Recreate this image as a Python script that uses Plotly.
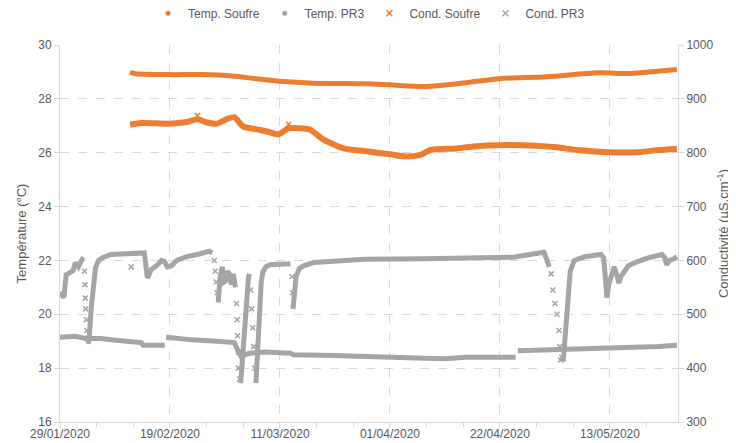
import plotly.graph_objects as go

# ---------------- data ----------------
temp_soufre_dates = ["2020-02-11 09:00", "2020-02-12 12:00", "2020-02-18 22:00", "2020-02-25 02:00",
                     "2020-03-01 22:00", "2020-03-06 00:00", "2020-03-11 00:00", "2020-03-17 10:00",
                     "2020-03-27 02:00", "2020-04-01 00:00", "2020-04-07 17:00", "2020-04-15 12:00",
                     "2020-04-21 22:00", "2020-05-01 00:00", "2020-05-10 17:00", "2020-05-16 12:00",
                     "2020-05-20 10:00", "2020-05-25 19:00"]
temp_soufre_vals = [28.98, 28.93, 28.9, 28.9, 28.85, 28.76, 28.65, 28.58, 28.56, 28.52, 28.46, 28.6,
                    28.75, 28.82, 28.97, 28.94, 29.0, 29.09]

temp_pr3_dates = ["2020-01-29 00:00", "2020-01-31 22:00", "2020-02-03 00:00", "2020-02-05 17:00",
                  "2020-02-10 14:00", "2020-02-13 12:00", "2020-02-13 22:00", "2020-02-18 00:00", None,
                  "2020-02-18 06:00", "2020-02-23 05:00", "2020-02-28 00:00", "2020-03-02 07:00",
                  "2020-03-03 02:00", "2020-03-03 12:00", "2020-03-05 05:00", "2020-03-08 03:00",
                  "2020-03-13 00:00", "2020-03-13 14:00", "2020-03-21 07:00", "2020-03-27 03:00",
                  "2020-04-07 17:00", "2020-04-11 14:00", "2020-04-15 12:00", "2020-04-25 00:00", None,
                  "2020-04-25 10:00", "2020-05-01 00:00", "2020-05-08 17:00", "2020-05-16 12:00",
                  "2020-05-22 07:00", "2020-05-25 19:00"]
temp_pr3_vals = [19.15, 19.18, 19.1, 19.1, 19.0, 18.95, 18.85, 18.85, None,
                 19.15, 19.05, 19.0, 18.95, 18.6, 18.45, 18.55, 18.6, 18.55, 18.5, 18.47, 18.45,
                 18.37, 18.35, 18.4, 18.4, None,
                 18.65, 18.68, 18.72, 18.75, 18.8, 18.85]

cond_soufre_dates = ["2020-02-11 09:00", "2020-02-13 12:00", "2020-02-18 22:00", "2020-02-22 05:00",
                     "2020-02-24 07:00", "2020-02-26 02:00", "2020-02-28 00:00", "2020-03-01 00:00",
                     "2020-03-02 07:00", "2020-03-03 22:00", "2020-03-06 19:00", "2020-03-08 17:00",
                     "2020-03-10 17:00", "2020-03-12 14:00", "2020-03-15 12:00", "2020-03-16 17:00",
                     "2020-03-19 10:00", "2020-03-23 05:00", "2020-03-27 02:00", "2020-04-01 00:00",
                     "2020-04-03 22:00", "2020-04-06 19:00", "2020-04-08 17:00", "2020-04-13 14:00",
                     "2020-04-17 10:00", "2020-04-21 22:00", "2020-04-29 00:00", "2020-05-02 22:00",
                     "2020-05-06 19:00", "2020-05-12 14:00", "2020-05-18 10:00", "2020-05-22 07:00",
                     "2020-05-25 19:00"]
cond_soufre_vals = [852, 855, 854, 857, 862, 856, 854, 863, 866, 849, 843, 839, 834, 845, 845, 843,
                    824, 808, 803, 797, 793, 796, 805, 808, 812, 814, 813, 810, 805, 801, 801, 805, 807]
cond_soufre_spike_dates = ["2020-02-24 06:00", "2020-03-12 16:00"]
cond_soufre_spike_vals = [869, 853]

cond_pr3_dates = ["2020-01-29 00:00", "2020-01-29 18:00", "2020-01-30 04:00", "2020-01-30 22:00",
                  "2020-01-31 12:00", "2020-01-31 22:00", "2020-02-01 12:00", "2020-02-02 06:00",
                  "2020-02-02 13:00", None,
                  "2020-02-03 10:00", "2020-02-03 14:00", "2020-02-04 00:00", "2020-02-04 10:00",
                  "2020-02-04 19:00", "2020-02-05 09:00", "2020-02-06 03:00", "2020-02-07 17:00",
                  "2020-02-11 14:00", "2020-02-14 02:00", "2020-02-14 07:00", "2020-02-14 12:00",
                  "2020-02-14 16:00", "2020-02-14 20:00", "2020-02-15 10:00", "2020-02-16 10:00",
                  "2020-02-17 10:00", "2020-02-17 23:00", "2020-02-18 12:00", "2020-02-19 07:00",
                  "2020-02-20 07:00", "2020-02-22 05:00", "2020-02-24 05:00", "2020-02-26 12:00",
                  "2020-02-27 02:00", None,
                  "2020-02-28 05:00", "2020-02-28 14:00", "2020-02-29 00:00", "2020-02-29 07:00",
                  "2020-02-29 14:00", "2020-03-01 00:00", "2020-03-01 08:00", "2020-03-01 17:00",
                  "2020-03-02 02:00", "2020-03-02 12:00", None,
                  "2020-03-03 12:00", "2020-03-03 17:00", "2020-03-04 00:00", "2020-03-04 07:00",
                  "2020-03-04 17:00", "2020-03-05 00:00", "2020-03-05 05:00", None,
                  "2020-03-06 10:00", "2020-03-06 14:00", "2020-03-06 19:00", "2020-03-07 02:00",
                  "2020-03-07 10:00", "2020-03-07 17:00", "2020-03-08 07:00", "2020-03-09 02:00",
                  "2020-03-13 00:00", None,
                  "2020-03-13 12:00", "2020-03-13 18:00", "2020-03-14 02:00", "2020-03-14 17:00",
                  "2020-03-15 12:00", "2020-03-17 10:00", "2020-03-27 03:00", "2020-04-07 17:00",
                  "2020-04-15 12:00", "2020-04-24 14:00", "2020-04-27 03:00", "2020-04-30 10:00",
                  "2020-05-01 00:00", "2020-05-01 10:00", None,
                  "2020-05-04 02:00", "2020-05-04 12:00", "2020-05-04 22:00", "2020-05-05 10:00",
                  "2020-05-06 05:00", "2020-05-08 05:00", "2020-05-11 07:00", "2020-05-11 19:00",
                  "2020-05-12 05:00", "2020-05-12 10:00", "2020-05-12 19:00", "2020-05-13 10:00",
                  "2020-05-13 19:00", "2020-05-14 10:00", "2020-05-14 17:00", "2020-05-15 02:00",
                  "2020-05-16 12:00", "2020-05-17 19:00", "2020-05-20 10:00", "2020-05-22 22:00",
                  "2020-05-23 12:00", "2020-05-23 19:00", "2020-05-24 10:00", "2020-05-25 05:00",
                  "2020-05-25 19:00"]
cond_pr3_vals = [541, 531, 573, 577, 581, 596, 588, 602, 600, None,
                 445, 458, 515, 562, 587, 600, 605, 611, 613, 614, 600, 585, 568, 570, 583, 590,
                 600, 598, 588, 590, 600, 607, 611, 617, 614, None,
                 522, 570, 588, 560, 562, 580, 575, 555, 575, 550, None,
                 372, 400, 450, 500, 545, 570, 575, None,
                 372, 400, 460, 520, 560, 578, 588, 592, 594, None,
                 510, 540, 570, 585, 590, 596, 602, 603, 604, 606, 610, 615, 600, 588, None,
                 412, 460, 530, 580, 600, 607, 611, 605, 560, 531, 555, 580, 588, 570, 558, 570,
                 590, 596, 605, 611, 605, 592, 600, 603, 607]

# scattered points during fast drops (markers only)
cond_pr3_drop_dates = ["2020-02-02 16:00", "2020-02-02 18:00", "2020-02-02 20:00", "2020-02-02 22:00",
                       "2020-02-03 01:00", "2020-02-03 03:00", "2020-02-03 06:00", "2020-02-11 14:00",
                       "2020-02-27 11:00", "2020-02-27 15:00", "2020-02-27 20:00", "2020-02-28 00:00",
                       "2020-03-02 17:00", "2020-03-02 20:00", "2020-03-02 22:00", "2020-03-03 01:00",
                       "2020-03-03 02:00", "2020-03-03 07:00", "2020-03-05 10:00", "2020-03-05 14:00",
                       "2020-03-05 19:00", "2020-03-06 00:00", "2020-03-06 05:00", "2020-03-13 07:00",
                       "2020-03-13 10:00", "2020-05-01 19:00", "2020-05-02 02:00", "2020-05-02 12:00",
                       "2020-05-02 22:00", "2020-05-03 07:00", "2020-05-03 10:00", "2020-05-03 14:00",
                       "2020-05-03 20:00"]
cond_pr3_drop_vals = [580, 555, 530, 510, 490, 470, 455, 588,
                      600, 580, 560, 540,
                      520, 490, 460, 430, 400, 380, 545, 510, 475, 440, 400, 570, 540,
                      575, 545, 520, 500, 470, 440, 415, 420]

x_range = ["2020-01-29", "2020-05-26"]

ORANGE = "#ED7D31"
GRAY = "#A5A5A5"
GRID = "#D9D9D9"
TXT = "#595959"
FONT = "Liberation Sans"
DAY = 86400000

fig = go.Figure()

# data traces
fig.add_trace(go.Scatter(x=temp_soufre_dates, y=temp_soufre_vals, mode="lines",
                         line=dict(color=ORANGE, width=5, shape="spline", smoothing=0.8),
                         showlegend=False, yaxis="y"))
fig.add_trace(go.Scatter(x=temp_pr3_dates, y=temp_pr3_vals, mode="lines", connectgaps=False,
                         line=dict(color=GRAY, width=5), showlegend=False, yaxis="y"))
fig.add_trace(go.Scatter(x=cond_soufre_dates, y=cond_soufre_vals, mode="lines",
                         line=dict(color=ORANGE, width=6, shape="spline", smoothing=0.6),
                         showlegend=False, yaxis="y2"))
fig.add_trace(go.Scatter(x=cond_soufre_spike_dates, y=cond_soufre_spike_vals, mode="markers",
                         marker=dict(symbol="x-thin", size=5, line=dict(color=ORANGE, width=1.5)),
                         showlegend=False, yaxis="y2"))
fig.add_trace(go.Scatter(x=cond_pr3_dates, y=cond_pr3_vals, mode="lines", connectgaps=False,
                         line=dict(color=GRAY, width=5), showlegend=False, yaxis="y2"))
fig.add_trace(go.Scatter(x=cond_pr3_drop_dates, y=cond_pr3_drop_vals, mode="markers",
                         marker=dict(symbol="x-thin", size=5, line=dict(color=GRAY, width=1.5)),
                         showlegend=False, yaxis="y2"))

# legend entries
fig.add_trace(go.Scatter(x=[None], y=[None], mode="markers", name="Temp. Soufre",
                         marker=dict(color=ORANGE, size=5, symbol="circle")))
fig.add_trace(go.Scatter(x=[None], y=[None], mode="markers", name="Temp. PR3",
                         marker=dict(color=GRAY, size=5, symbol="circle")))
fig.add_trace(go.Scatter(x=[None], y=[None], mode="markers", name="Cond. Soufre",
                         marker=dict(symbol="x-thin", size=6, line=dict(color=ORANGE, width=1.5))))
fig.add_trace(go.Scatter(x=[None], y=[None], mode="markers", name="Cond. PR3",
                         marker=dict(symbol="x-thin", size=6, line=dict(color=GRAY, width=1.5))))

# the page body adds an 8 px margin, so the figure is 8 px smaller and margins shifted
fig.update_layout(
    width=728, height=435,
    margin=dict(l=52, r=58, t=37, b=21, autoexpand=False),
    paper_bgcolor="white", plot_bgcolor="white",
    font=dict(family=FONT, size=12, color=TXT),
    legend=dict(orientation="h", x=0.5, xanchor="center", y=1.084, yanchor="middle",
                font=dict(size=12, color=TXT), itemwidth=30, tracegroupgap=0),
    xaxis=dict(type="date", range=x_range, tick0="2020-01-29", dtick=21 * DAY,
               tickformat="%d/%m/%Y", showgrid=True, gridcolor=GRID, griddash="dash",
               showline=True, linecolor=GRID, ticks="outside", ticklen=5, tickcolor=GRID,
               ticklabelstandoff=-4,
               minor=dict(dtick=7 * DAY, tick0="2020-01-29", ticks="outside", ticklen=4,
                          tickcolor=GRID, showgrid=False),
               tickfont=dict(size=12, color=TXT), zeroline=False),
    yaxis=dict(range=[16, 30], dtick=2, showgrid=True, gridcolor=GRID, griddash="dash",
               showline=True, linecolor=GRID, ticks="outside", ticklen=5, tickcolor=GRID,
               zeroline=False, tickfont=dict(size=12, color=TXT),
               title=dict(text="Température (°C)", font=dict(size=13, color=TXT), standoff=8)),
    yaxis2=dict(range=[300, 1000], dtick=100, overlaying="y", side="right", showgrid=False,
                showline=True, linecolor=GRID, ticks="outside", ticklen=5, tickcolor=GRID,
                zeroline=False, tickfont=dict(size=12, color=TXT),
                title=dict(text="Conductivité (µS.cm<sup>-1</sup>)", font=dict(size=13, color=TXT),
                           standoff=6)),
)

fig.write_html("out.html")
